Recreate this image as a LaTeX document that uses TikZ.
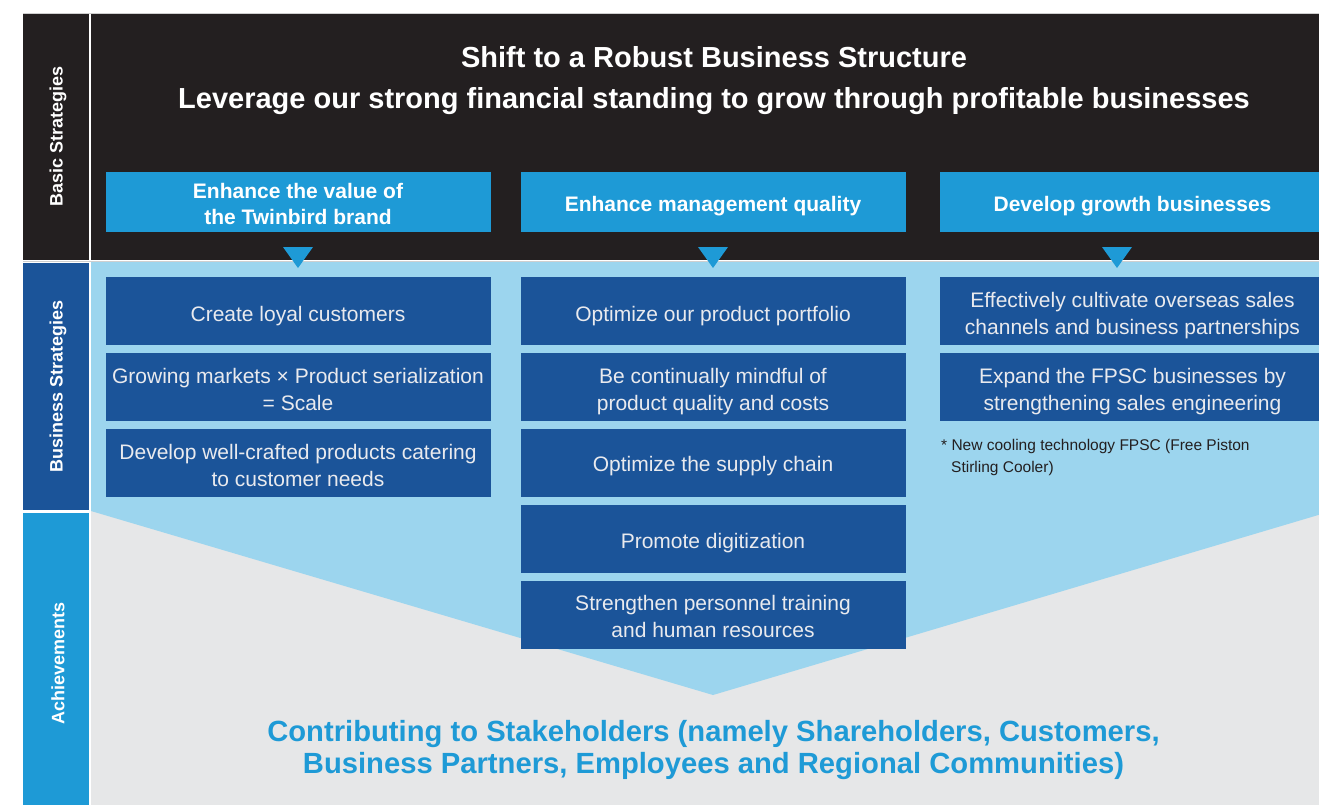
\documentclass[tikz,border=0pt]{standalone}
\usepackage{fontspec}
\setmainfont{Liberation Sans}
\definecolor{blk}{HTML}{231F20}
\definecolor{hblue}{HTML}{1E9AD6}
\definecolor{dblue}{HTML}{1B5499}
\definecolor{lblue}{HTML}{9CD5EE}
\definecolor{lgray}{HTML}{E6E7E8}
\definecolor{btext}{HTML}{E9EAEE}
\definecolor{sepc}{HTML}{CFCFCF}
\begin{document}
\begin{tikzpicture}[x=1pt,y=-1pt,
  hdr/.style={fill=hblue, minimum width=385pt, minimum height=60pt, inner sep=0pt},
  hdrtxt/.style={text=white, font=\fontsize{21}{26}\selectfont\bfseries, align=center, inner sep=0pt},
  sbox/.style={fill=dblue, minimum width=385pt, minimum height=68pt, inner sep=0pt},
  stxt/.style={text=btext, font=\fontsize{21}{27}\selectfont, align=center, inner sep=0pt},
  side/.style={rotate=90, text=white, font=\fontsize{18}{20}\selectfont\bfseries, inner sep=0pt},
  titletxt/.style={text=white, font=\fontsize{29}{41}\selectfont\bfseries, inner sep=0pt, anchor=base},
  bottomtxt/.style={text=hblue, font=\fontsize{29.2}{32}\selectfont\bfseries, inner sep=0pt, anchor=base},
  foot/.style={text=blk, font=\fontsize{15.5}{22}\selectfont, inner sep=0pt, anchor=base west},
  tri/.style={fill=hblue}
  ]
\useasboundingbox (0,0) rectangle (1319,804);
\clip (0,0) rectangle (1319,804);
\fill[white] (0,0) rectangle (1319,804);
% left column
\fill[blk] (23,13) rectangle (89,260);
\fill[dblue] (23,263) rectangle (89,510);
\fill[hblue] (23,513) rectangle (89,810);
% main panel
\fill[blk] (91,13) rectangle (1325,260);
\fill[lgray] (91,262) rectangle (1325,810);
\fill[lblue] (91,262) -- (1325,262) -- (1325,513) -- (713,695) -- (91,511) -- cycle;
\draw[sepc, line width=0.8pt] (23,13.4) -- (1325,13.4);
\draw[sepc, line width=1pt] (23,261) -- (1325,261);

% side labels
\node[side] (sl1) at (58,136) {Basic Strategies};
\node[side] (sl2) at (58,386) {Business Strategies};
\node[side] (sl3) at (58,663) {Achievements};

% title
\node[titletxt] (t1) at (714,67) {Shift to a Robust Business Structure};
\node[titletxt] (t2) at (714,108) {Leverage our strong financial standing to grow through profitable businesses};

% headers
\node[hdr] (h1) at (298,202) {};
\node[hdr] (h2) at (713,202) {};
\node[hdr] (h3) at (1132.5,202) {};
\node[hdrtxt] (h1t) at ([yshift=-2pt]h1.center) {Enhance the value of\\the Twinbird brand};
\node[hdrtxt] (h2t) at ([yshift=-4.5pt]h2.center) {Enhance management quality};
\node[hdrtxt] (h3t) at ([yshift=-4.5pt]h3.center) {Develop growth businesses};

% triangles
\fill[tri] (283,247) -- (313,247) -- (298,268) -- cycle;
\fill[tri] (698,247) -- (728,247) -- (713,268) -- cycle;
\fill[tri] (1102,247) -- (1132,247) -- (1117,268) -- cycle;

% boxes
\node[sbox] (a1) at (298,311) {};
\node[sbox] (a2) at (298,387) {};
\node[sbox] (a3) at (298,463) {};
\node[sbox] (b1) at (713,311) {};
\node[sbox] (b2) at (713,387) {};
\node[sbox] (b3) at (713,463) {};
\node[sbox] (b4) at (713,539) {};
\node[sbox] (b5) at (713,615) {};
\node[sbox] (c1) at (1132.5,311) {};
\node[sbox] (c2) at (1132.5,387) {};

\node[stxt] (a1t) at ([yshift=-5pt]a1.center) {Create loyal customers};
\node[stxt] (a2t) at ([yshift=-2pt]a2.center) {Growing markets × Product serialization\\= Scale};
\node[stxt] (a3t) at ([yshift=-2pt]a3.center) {Develop well-crafted products catering\\to customer needs};
\node[stxt] (b1t) at ([yshift=-5pt]b1.center) {Optimize our product portfolio};
\node[stxt] (b2t) at ([yshift=-5pt]b2.center) {Be continually mindful of\\product quality and costs};
\node[stxt] (b3t) at ([yshift=-3.5pt]b3.center) {Optimize the supply chain};
\node[stxt] (b4t) at ([yshift=-4.5pt]b4.center) {Promote digitization};
\node[stxt] (b5t) at ([yshift=-1.5pt]b5.center) {Strengthen personnel training\\and human resources};
\node[stxt] (c1t) at ([yshift=-5pt]c1.center) {Effectively cultivate overseas sales\\channels and business partnerships};
\node[stxt] (c2t) at ([yshift=-5pt]c2.center) {Expand the FPSC businesses by\\strengthening sales engineering};

% footnote
\node[foot] (f1) at (941,450) {* New cooling technology FPSC (Free Piston};
\node[foot] (f2) at (951,472) {Stirling Cooler)};

% bottom text
\node[bottomtxt] (r1) at (713.5,741) {Contributing to Stakeholders (namely Shareholders, Customers,};
\node[bottomtxt] (r2) at (713.5,773) {Business Partners, Employees and Regional Communities)};
\end{tikzpicture}
\end{document}
